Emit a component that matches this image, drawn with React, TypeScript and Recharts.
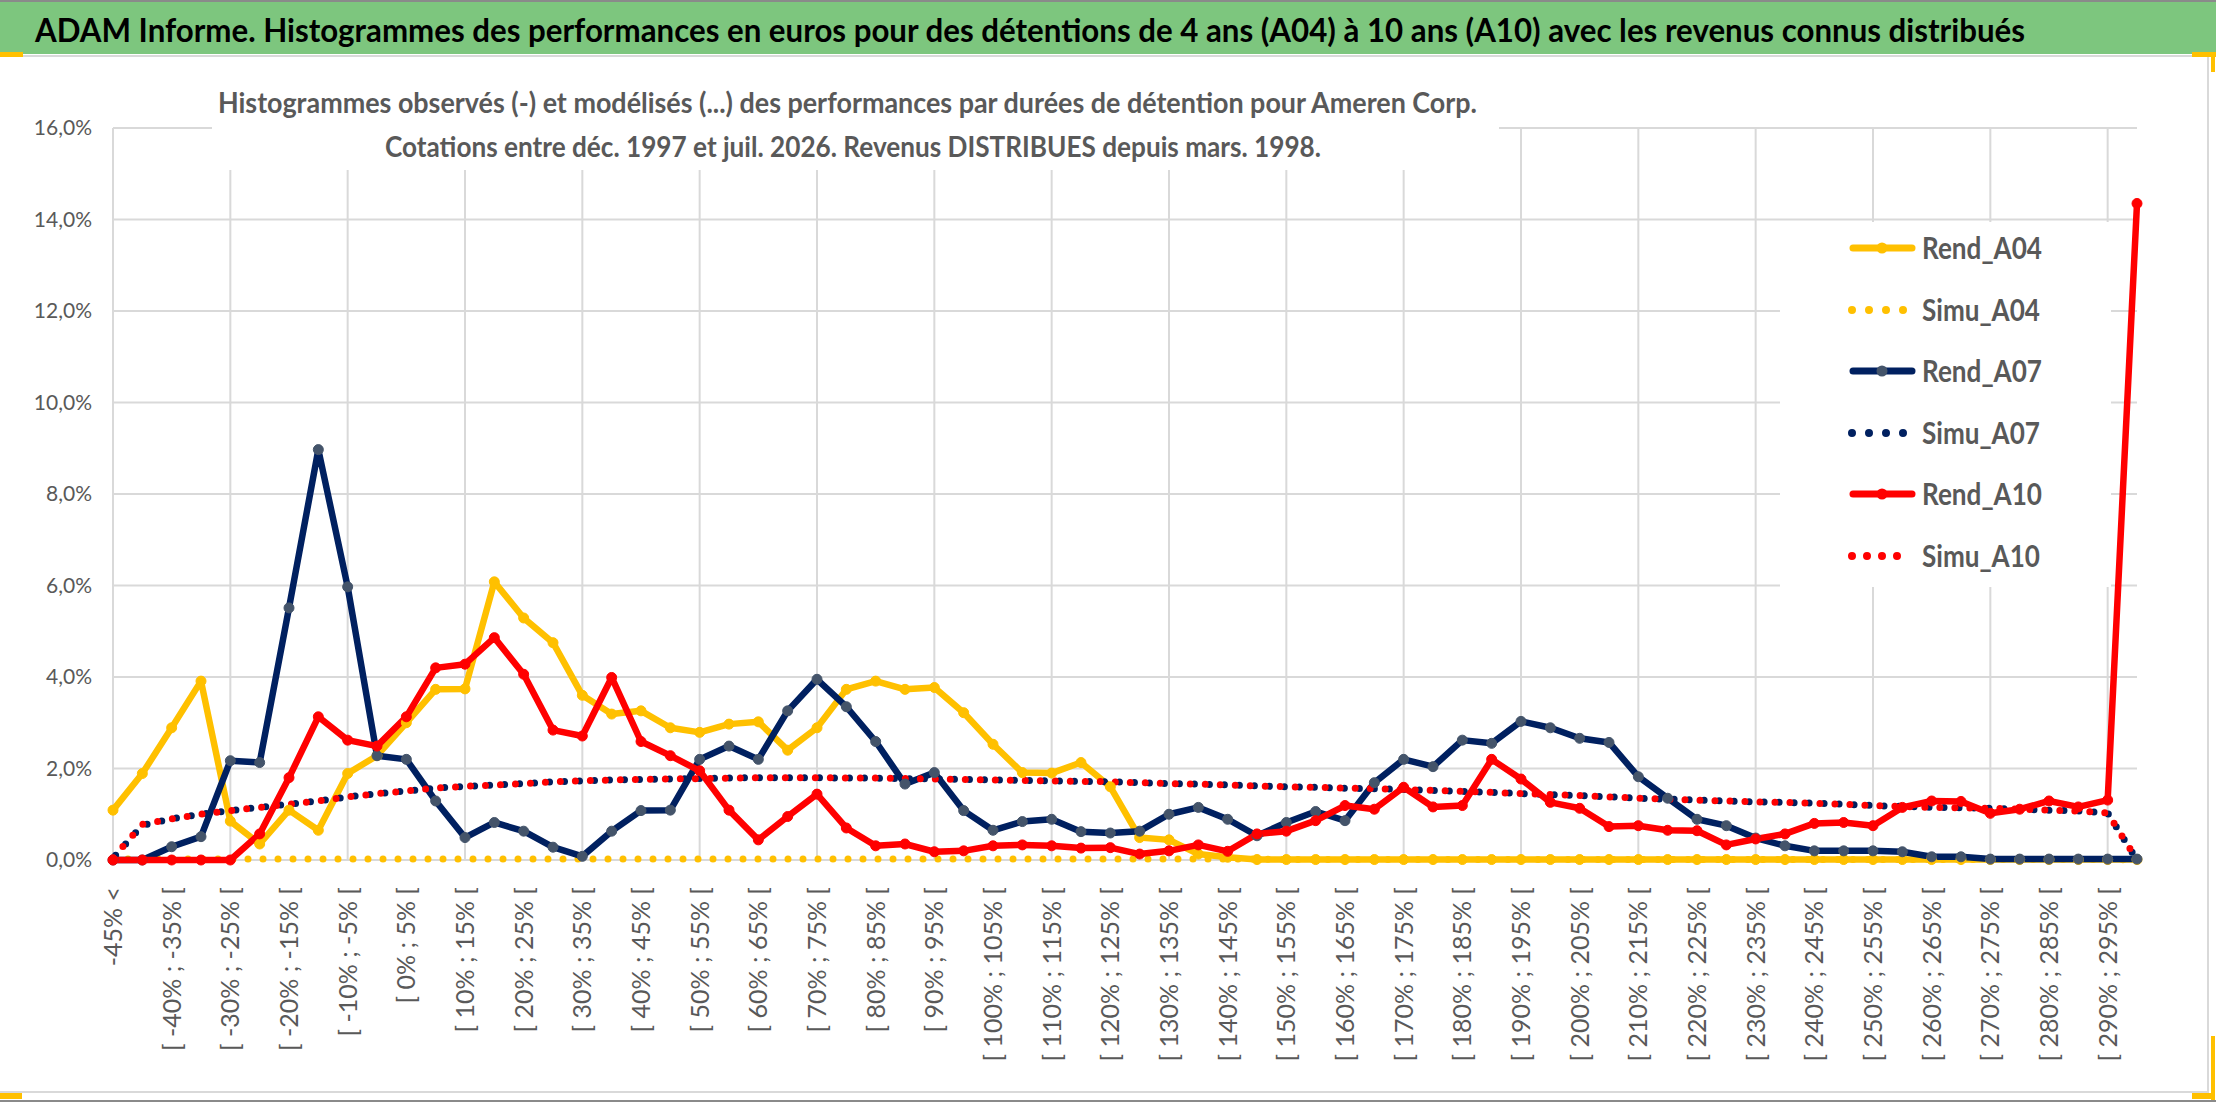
import { LineChart, Line, XAxis, YAxis, CartesianGrid } from "recharts";

const W = 2216;
const H = 1102;

const TITLE =
  "ADAM Informe. Histogrammes des performances en euros pour des détentions de 4 ans (A04) à 10 ans (A10) avec les revenus connus distribués";
const SUBTITLE_1 =
  "Histogrammes observés (-) et modélisés (...) des performances par durées de détention pour Ameren Corp.";
const SUBTITLE_2 = "Cotations entre déc. 1997 et juil. 2026. Revenus DISTRIBUES depuis mars. 1998.";

const CATEGORIES = [
  "-45% <", "[ -45% ; -40% [", "[ -40% ; -35% [", "[ -35% ; -30% [", "[ -30% ; -25% [",
  "[ -25% ; -20% [", "[ -20% ; -15% [", "[ -15% ; -10% [", "[ -10% ; -5% [", "[ -5% ; 0% [",
  "[ 0% ; 5% [", "[ 5% ; 10% [", "[ 10% ; 15% [", "[ 15% ; 20% [", "[ 20% ; 25% [",
  "[ 25% ; 30% [", "[ 30% ; 35% [", "[ 35% ; 40% [", "[ 40% ; 45% [", "[ 45% ; 50% [",
  "[ 50% ; 55% [", "[ 55% ; 60% [", "[ 60% ; 65% [", "[ 65% ; 70% [", "[ 70% ; 75% [",
  "[ 75% ; 80% [", "[ 80% ; 85% [", "[ 85% ; 90% [", "[ 90% ; 95% [", "[ 95% ; 100% [",
  "[ 100% ; 105% [", "[ 105% ; 110% [", "[ 110% ; 115% [", "[ 115% ; 120% [", "[ 120% ; 125% [",
  "[ 125% ; 130% [", "[ 130% ; 135% [", "[ 135% ; 140% [", "[ 140% ; 145% [", "[ 145% ; 150% [",
  "[ 150% ; 155% [", "[ 155% ; 160% [", "[ 160% ; 165% [", "[ 165% ; 170% [", "[ 170% ; 175% [",
  "[ 175% ; 180% [", "[ 180% ; 185% [", "[ 185% ; 190% [", "[ 190% ; 195% [", "[ 195% ; 200% [",
  "[ 200% ; 205% [", "[ 205% ; 210% [", "[ 210% ; 215% [", "[ 215% ; 220% [", "[ 220% ; 225% [",
  "[ 225% ; 230% [", "[ 230% ; 235% [", "[ 235% ; 240% [", "[ 240% ; 245% [", "[ 245% ; 250% [",
  "[ 250% ; 255% [", "[ 255% ; 260% [", "[ 260% ; 265% [", "[ 265% ; 270% [", "[ 270% ; 275% [",
  "[ 275% ; 280% [", "[ 280% ; 285% [", "[ 285% ; 290% [", "[ 290% ; 295% [", "[ 295% ; 300% [",
];

// values in %
const REND_A04 = [
  1.09, 1.89, 2.89, 3.91, 0.85, 0.35, 1.09, 0.65, 1.89, 2.28,
  3.0, 3.73, 3.74, 6.08, 5.29, 4.75, 3.6, 3.19, 3.26, 2.89,
  2.79, 2.97, 3.02, 2.4, 2.89, 3.73, 3.91, 3.73, 3.77, 3.22,
  2.53, 1.91, 1.9, 2.13, 1.6, 0.49, 0.44, 0.13, 0.06, 0.01,
  0.01, 0.01, 0.01, 0.01, 0.01, 0.01, 0.01, 0.01, 0.01, 0.01,
  0.01, 0.01, 0.01, 0.01, 0.01, 0.01, 0.01, 0.01, 0.01, 0.01,
  0.01, 0.01, 0.01, 0.01, 0.01, 0.01, 0.01, 0.01, 0.01, 0.01,
];
const SIMU_A04 = [
  0.02, 0.02, 0.02, 0.02, 0.02, 0.02, 0.02, 0.02, 0.02, 0.02,
  0.02, 0.02, 0.02, 0.02, 0.02, 0.02, 0.02, 0.02, 0.02, 0.02,
  0.02, 0.02, 0.02, 0.02, 0.02, 0.02, 0.02, 0.02, 0.02, 0.02,
  0.02, 0.02, 0.02, 0.02, 0.02, 0.02, 0.02, 0.02, 0.02, 0.02,
  0.01, 0.01, 0.01, 0.01, 0.01, 0.01, 0.01, 0.01, 0.01, 0.01,
  0.01, 0.01, 0.01, 0.01, 0.01, 0.01, 0.01, 0.01, 0.01, 0.01,
  0.01, 0.01, 0.01, 0.01, 0.01, 0.01, 0.01, 0.01, 0.01, 0.0,
];
const REND_A07 = [
  0.0, 0.0, 0.29, 0.51, 2.17, 2.13, 5.51, 8.97, 5.97, 2.28,
  2.2, 1.29, 0.49, 0.82, 0.63, 0.28, 0.08, 0.63, 1.08, 1.09,
  2.2, 2.49, 2.2, 3.26, 3.95, 3.35, 2.59, 1.66, 1.91, 1.08,
  0.65, 0.84, 0.89, 0.62, 0.59, 0.63, 1.0, 1.15, 0.89, 0.53,
  0.82, 1.06, 0.86, 1.69, 2.2, 2.04, 2.62, 2.55, 3.03, 2.89,
  2.66, 2.57, 1.82, 1.35, 0.89, 0.75, 0.48, 0.31, 0.2, 0.2,
  0.2, 0.18, 0.07, 0.07, 0.02, 0.02, 0.02, 0.02, 0.02, 0.02,
];
const SIMU_A07 = [
  0.04, 0.76, 0.9, 1.0, 1.08, 1.15, 1.22, 1.29, 1.38, 1.45,
  1.51, 1.57, 1.61, 1.64, 1.67, 1.71, 1.73, 1.75, 1.76, 1.77,
  1.78, 1.79, 1.8, 1.8, 1.8, 1.79, 1.79, 1.78, 1.77, 1.76,
  1.75, 1.74, 1.73, 1.72, 1.71, 1.69, 1.67, 1.66, 1.64, 1.62,
  1.6, 1.59, 1.57, 1.56, 1.54, 1.52, 1.5, 1.48, 1.45, 1.43,
  1.41, 1.38, 1.35, 1.33, 1.31, 1.29, 1.27, 1.26, 1.24, 1.22,
  1.19, 1.17, 1.15, 1.14, 1.13, 1.11, 1.09, 1.07, 1.03, 0.0,
];
const REND_A10 = [
  0.0, 0.0, 0.0, 0.0, 0.0, 0.57, 1.8, 3.13, 2.62, 2.49,
  3.13, 4.2, 4.28, 4.86, 4.06, 2.84, 2.71, 3.99, 2.59, 2.28,
  1.95, 1.09, 0.44, 0.95, 1.44, 0.7, 0.31, 0.35, 0.18, 0.2,
  0.31, 0.33, 0.31, 0.26, 0.27, 0.13, 0.2, 0.33, 0.19, 0.57,
  0.63, 0.86, 1.19, 1.11, 1.59, 1.16, 1.19, 2.2, 1.77, 1.26,
  1.13, 0.73, 0.75, 0.65, 0.64, 0.33, 0.46, 0.57, 0.8, 0.82,
  0.75, 1.15, 1.29, 1.28, 1.02, 1.11, 1.29, 1.16, 1.31, 14.35,
];
const SIMU_A10 = [
  0.05, 0.78, 0.9, 1.0, 1.08, 1.15, 1.22, 1.29, 1.38, 1.45,
  1.51, 1.57, 1.61, 1.64, 1.67, 1.71, 1.73, 1.75, 1.76, 1.77,
  1.78, 1.79, 1.8, 1.8, 1.8, 1.79, 1.79, 1.78, 1.77, 1.76,
  1.75, 1.74, 1.73, 1.72, 1.71, 1.69, 1.67, 1.66, 1.64, 1.62,
  1.6, 1.59, 1.57, 1.56, 1.54, 1.52, 1.5, 1.48, 1.45, 1.43,
  1.41, 1.38, 1.35, 1.33, 1.31, 1.29, 1.27, 1.26, 1.24, 1.22,
  1.19, 1.17, 1.15, 1.14, 1.13, 1.11, 1.09, 1.07, 1.03, 0.0,
];

const Y_TICKS = [0, 2, 4, 6, 8, 10, 12, 14, 16];

const YELLOW = "#FFC000";
const NAVY = "#002060";
const NAVY_MARK = "#44546A";
const RED = "#FF0000";
const GRID = "#D9D9D9";
const TEXT = "#595959";
const FONT = "Lato, 'Open Sans', sans-serif";

const SERIES = [
  { key: "rendA04", name: "Rend_A04", color: YELLOW, marker: YELLOW, dotted: false, offset: 0 },
  { key: "simuA04", name: "Simu_A04", color: YELLOW, marker: "", dotted: true, offset: 0 },
  { key: "rendA07", name: "Rend_A07", color: NAVY, marker: NAVY_MARK, dotted: false, offset: 0 },
  { key: "simuA07", name: "Simu_A07", color: NAVY, marker: "", dotted: true, offset: 11 },
  { key: "rendA10", name: "Rend_A10", color: RED, marker: RED, dotted: false, offset: 0 },
  { key: "simuA10", name: "Simu_A10", color: RED, marker: "", dotted: true, offset: 0 },
];

const data = CATEGORIES.map((cat, i) => ({
  cat,
  rendA04: REND_A04[i],
  simuA04: SIMU_A04[i],
  rendA07: REND_A07[i],
  simuA07: SIMU_A07[i],
  rendA10: REND_A10[i],
  simuA10: SIMU_A10[i],
}));

const fmtPct = (v: number) => v.toFixed(1).replace(".", ",") + "%";

function XTick({ x, y, payload }: any) {
  return (
    <text
      transform={`translate(${x},${y}) rotate(-90)`}
      textAnchor="end"
      dy="0.36em"
      fontSize={25}
      fill={TEXT}
      fontFamily={FONT}
    >
      {payload.value}
    </text>
  );
}

// vertical grid every 4 categories, like the Excel sheet
function gridXs({ offset }: any) {
  const n = CATEGORIES.length;
  const xs: number[] = [];
  for (let i = 0; i < n; i += 4) xs.push(offset.left + (i * offset.width) / (n - 1));
  return xs;
}

function Overlay() {
  const legendX = 1850;
  const rows = [248, 310, 371, 433, 494, 556];
  return (
    <svg width={W} height={H} style={{ position: "absolute", left: 0, top: 0, pointerEvents: "none" }}>
      {/* frame */}
      <rect x={0} y={0} width={W} height={2} fill="#8a8a8a" />
      <rect x={0} y={2} width={W} height={52} fill="#7DC67E" />
      <rect x={0} y={55} width={W} height={2} fill={GRID} />
      <rect x={2207} y={56} width={2} height={1037} fill={GRID} />
      <rect x={0} y={1091} width={2209} height={2} fill={GRID} />
      <rect x={0} y={1100} width={W} height={2} fill="#8a8a8a" />
      <rect x={0} y={52} width={23} height={5} fill={YELLOW} />
      <rect x={2192} y={52} width={24} height={5} fill={YELLOW} />
      <rect x={2211} y={52} width={4} height={20} fill={YELLOW} />
      <rect x={0} y={1093} width={22} height={6} fill={YELLOW} />
      <rect x={2192} y={1093} width={22} height={6} fill={YELLOW} />
      <rect x={2211} y={1036} width={4} height={64} fill={YELLOW} />

      <text x={35} y={42} fontSize={32} fontWeight={700} fill="#000" fontFamily={FONT}
        textLength={1990} lengthAdjust="spacingAndGlyphs">
        {TITLE}
      </text>

      {/* chart title box */}
      <rect x={212} y={58} width={1287} height={112} fill="#fff" />
      <text x={218} y={113} fontSize={28} fontWeight={700} fill={TEXT} fontFamily={FONT}
        textLength={1259} lengthAdjust="spacingAndGlyphs">
        {SUBTITLE_1}
      </text>
      <text x={385} y={157} fontSize={28} fontWeight={700} fill={TEXT} fontFamily={FONT}
        textLength={936} lengthAdjust="spacingAndGlyphs">
        {SUBTITLE_2}
      </text>

      {/* legend */}
      <rect x={1780} y={222} width={331} height={365} fill="#fff" />
      {SERIES.map((s, i) => {
        const cy = rows[i];
        return (
          <g key={s.key}>
            {s.dotted ? (
              <line x1={legendX + 2} y1={cy} x2={s.color === RED ? legendX + 62 : legendX + 55} y2={cy}
                stroke={s.color} strokeWidth={8} strokeLinecap="round"
                strokeDasharray={s.color === RED ? "0 15" : "0 17"} />
            ) : (
              <g>
                <line x1={legendX + 3} y1={cy} x2={legendX + 62} y2={cy} stroke={s.color}
                  strokeWidth={7} strokeLinecap="round" />
                <circle cx={legendX + 32} cy={cy} r={5.5} fill={s.marker} />
              </g>
            )}
            <text x={1922} y={cy + 10.5} fontSize={30} fontWeight={700} fill={TEXT} fontFamily={FONT}
              textLength={s.dotted ? 118 : 120} lengthAdjust="spacingAndGlyphs">
              {s.name}
            </text>
          </g>
        );
      })}
    </svg>
  );
}

export default function App() {
  return (
    <div style={{ position: "fixed", left: 0, top: 0, width: W, height: H, background: "#fff", overflow: "hidden" }}>
      <div style={{ position: "absolute", left: 0, top: 0 }}>
        <LineChart width={W} height={H} data={data} margin={{ top: 128, right: 79, bottom: 42, left: 33 }}>
          <CartesianGrid stroke={GRID} strokeWidth={2} verticalCoordinatesGenerator={gridXs} />
          <XAxis
            dataKey="cat"
            interval={1}
            height={200}
            tickLine={false}
            axisLine={false}
            tickSize={0}
            tickMargin={27}
            padding={{ left: 0, right: 0 }}
            tick={(p: any) => <XTick {...p} />}
          />
          <YAxis
            domain={[0, 16]}
            ticks={Y_TICKS}
            width={80}
            tickLine={false}
            axisLine={false}
            tickSize={0}
            tickMargin={21}
            tickFormatter={fmtPct}
            tick={{ fontSize: 21, fill: TEXT, fontFamily: FONT }}
          />
          {SERIES.map((s) =>
            s.dotted ? (
              <Line
                key={s.key}
                type="linear"
                dataKey={s.key}
                name={s.name}
                stroke={s.color}
                strokeWidth={7}
                strokeLinecap="round"
                strokeDasharray="0 15"
                strokeDashoffset={s.offset}
                dot={false}
                activeDot={false}
                isAnimationActive={false}
              />
            ) : (
              <Line
                key={s.key}
                type="linear"
                dataKey={s.key}
                name={s.name}
                stroke={s.color}
                strokeWidth={6.5}
                strokeLinejoin="round"
                dot={{ r: 5, fill: s.marker, stroke: s.marker, strokeWidth: 1 }}
                activeDot={false}
                isAnimationActive={false}
              />
            )
          )}
        </LineChart>
      </div>
      <Overlay />
    </div>
  );
}
